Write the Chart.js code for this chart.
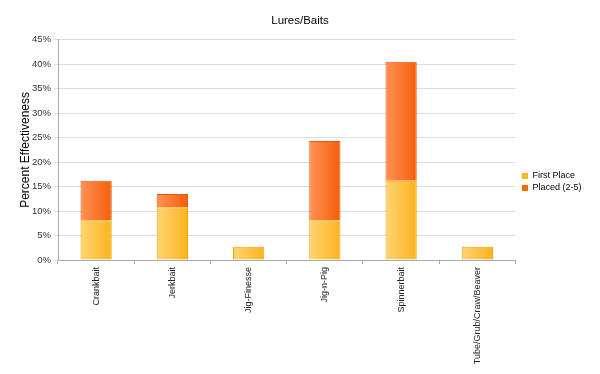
<!DOCTYPE html>
<html><head><meta charset="utf-8">
<script src="https://cdn.jsdelivr.net/npm/chart.js@4/dist/chart.umd.min.js"></script>
<style>html,body{margin:0;padding:0;background:#fff}#wrap{width:600px;height:374px}</style>
</head><body><div id="wrap"><canvas id="c" width="600" height="374"></canvas></div>
<script>
const categories = ['Crankbait','Jerkbait','Jig-Finesse','Jig-n-Pig','Spinnerbait','Tube/Grub/Craw/Beaver'];
const firstPlace = [8.1, 10.8, 2.7, 8.1, 16.2, 2.7];
const placed2to5 = [8.1, 2.7, 0, 16.2, 24.3, 0];
const yTicks = [0,5,10,15,20,25,30,35,40,45];

function grad(light, dark, fallback){
  return function(ctx){
    const chart = ctx.chart;
    if(!chart.chartArea || !chart.scales.x) return fallback;
    const x = chart.scales.x.getPixelForValue(ctx.dataIndex);
    const w = 16;
    const g = chart.ctx.createLinearGradient(x-w,0,x+w,0);
    g.addColorStop(0, light);
    g.addColorStop(1, dark);
    return g;
  };
}

const legendShift = {
  id:'legendShift',
  afterLayout(chart){
    const lg = chart.legend;
    if(lg){
      const d = 182 - (lg.top + lg.bottom)/2;
      lg.top += d; lg.bottom += d;
      const dx = 519 - lg.left;
      lg.left += dx; lg.right += dx;
    }
    const tb = chart.titleBlock;
    if(tb){ tb.left += 6; tb.right += 6; }
  }
};

new Chart(document.getElementById('c'), {
  type:'bar',
  data:{
    labels: categories,
    datasets:[
      {label:'First Place', data:firstPlace, backgroundColor:grad('#FFD474','#FDB31C','#FEC040'), borderColor:'#F2A200', borderWidth:1, barPercentage:0.82, categoryPercentage:0.5},
      {label:'Placed (2-5)', data:placed2to5, backgroundColor:grad('#FF9258','#F65E06','#FA7530'), borderColor:'#E35A10', borderWidth:1, barPercentage:0.82, categoryPercentage:0.5}
    ]
  },
  options:{
    responsive:false, animation:false,
    layout:{padding:{left:0,right:12,top:14,bottom:0}},
    plugins:{
      title:{display:true, text:'Lures/Baits', color:'#000', font:{family:'Liberation Sans, Arial', size:11.5, weight:'normal', lineHeight:1.2}, padding:{top:0,bottom:12}},
      legend:{position:'right', align:'center',
        labels:{boxWidth:6, boxHeight:6, padding:3, color:'#111', font:{family:'Liberation Sans, Arial', size:9, lineHeight:1},
          generateLabels(chart){
            const cols=['#FDB91E','#F86A10'];
            return chart.data.datasets.map((d,i)=>({text:d.label, fillStyle:cols[i], strokeStyle:cols[i], lineWidth:0, datasetIndex:i, hidden:false}));
          }}},
      tooltip:{enabled:false}
    },
    scales:{
      x:{stacked:true,
        grid:{display:true, drawOnChartArea:false, drawTicks:true, tickLength:4, color:'#aaa', offset:true},
        border:{color:'#aaa'},
        ticks:{minRotation:90, maxRotation:90, color:'#222', padding:3, font:{family:'Liberation Sans, Arial', size:9}},
        afterFit(s){ s.height = 114; }
      },
      y:{stacked:true, min:0, max:45,
        afterBuildTicks(s){ s.ticks = yTicks.map(v=>({value:v})); },
        grid:{color:'#dcdcdc', tickLength:4, lineWidth:1},
        border:{color:'#aaa'},
        ticks:{color:'#333', padding:3, font:{family:'Liberation Sans, Arial', size:9.5}, callback:v=>v+'%'},
        title:{display:true, text:'Percent Effectiveness', color:'#000', padding:{top:18,bottom:0}, font:{family:'Liberation Sans, Arial', size:12}},
        afterFit(s){ s.width = 58; }
      }
    }
  },
  plugins:[legendShift]
});
</script></body></html>
